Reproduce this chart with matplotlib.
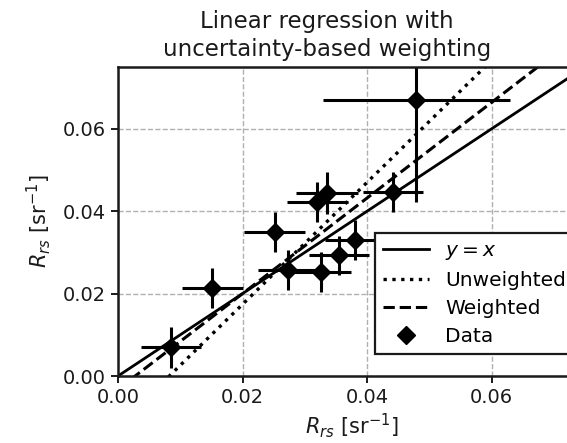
import matplotlib
matplotlib.use("Agg")
import matplotlib.pyplot as plt
import numpy as np

x_vals = [0.0085, 0.0151, 0.0252, 0.0273, 0.0326, 0.0355, 0.0381, 0.0320, 0.0336, 0.0442, 0.0479]
y_vals = [0.0070, 0.0213, 0.0349, 0.0257, 0.0252, 0.0293, 0.0330, 0.0422, 0.0444, 0.0446, 0.0669]
x_err = [0.0048, 0.0049, 0.0049, 0.0048, 0.0048, 0.0048, 0.0048, 0.0049, 0.0050, 0.0048, 0.0150]
y_err = [0.0050, 0.0049, 0.0049, 0.0048, 0.0048, 0.0048, 0.0048, 0.0049, 0.0050, 0.0048, 0.0247]

# regression fits (slope, intercept)
unweighted_fit = (1.48, -0.0122)
weighted_fit = (1.16, -0.0032)

xticks = [0.00, 0.02, 0.04, 0.06]
yticks = [0.00, 0.02, 0.04, 0.06]

plt.rcParams['font.family'] = ['DejaVu Sans']
plt.rcParams['font.size'] = 14

fig = plt.figure(figsize=(5.67, 4.43), dpi=100)
ax = fig.add_axes([0.2081, 0.1512, 0.8236, 0.6975])

xx = np.linspace(0, 0.08, 200)
ax.plot(xx, xx, '-', color='black', lw=2.0, label='$y = x$')
ax.plot(xx, unweighted_fit[0] * xx + unweighted_fit[1], ':', color='black', lw=2.4, label='Unweighted')
ax.plot(xx, weighted_fit[0] * xx + weighted_fit[1], '--', color='black', lw=2.2, label='Weighted')

ax.errorbar(x_vals, y_vals, xerr=x_err, yerr=y_err, fmt='none', ecolor='black', elinewidth=2.2, capsize=0)
ax.plot(x_vals, y_vals, 'D', color='black', markersize=9, linestyle='none', label='Data')

ax.set_xlim(0, 0.075)
ax.set_ylim(0, 0.075)
ax.set_xticks(xticks)
ax.set_yticks(yticks)
ax.xaxis.set_major_formatter(matplotlib.ticker.FormatStrFormatter('%.2f'))
ax.yaxis.set_major_formatter(matplotlib.ticker.FormatStrFormatter('%.2f'))
ax.tick_params(length=5, width=1.4, colors='#1a1a1a', labelsize=14)
ax.grid(True, linestyle='--', color='#b0b0b0', lw=1.0)
for s in ax.spines.values():
    s.set_linewidth(1.8)
    s.set_color('#1a1a1a')

ax.set_title('Linear regression with\nuncertainty-based weighting', x=0.4475, fontsize=16.5,
             color='#1a1a1a', pad=8, linespacing=1.3)
ax.set_xlabel('$R_{rs}$ [sr$^{-1}$]', fontsize=15, color='#1a1a1a', labelpad=3)
ax.set_ylabel('$R_{rs}$ [sr$^{-1}$]', fontsize=15, color='#1a1a1a', labelpad=7)

leg = ax.legend(loc='upper left', bbox_to_anchor=(0.550, 0.463), borderaxespad=0,
                fontsize=14.5, framealpha=1, edgecolor='#1a1a1a', fancybox=False,
                handlelength=2.3, labelspacing=0.45)
leg.get_frame().set_linewidth(1.6)

fig.savefig('out.png', dpi=100)
